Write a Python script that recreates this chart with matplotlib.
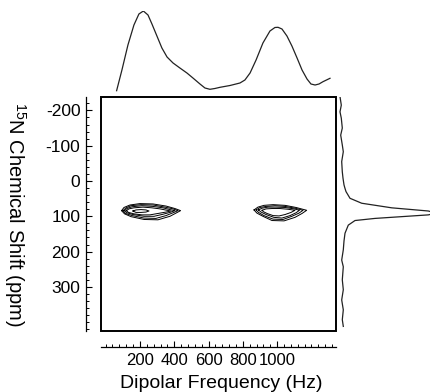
import matplotlib.pyplot as plt
from matplotlib.patches import Rectangle
from matplotlib.ticker import MultipleLocator, FixedLocator

# fonts -- Arial-like look
plt.rcParams['font.family'] = ['Liberation Sans', 'DejaVu Sans']
plt.rcParams['mathtext.fontset'] = 'custom'
plt.rcParams['mathtext.rm'] = 'Liberation Sans'
plt.rcParams['axes.unicode_minus'] = False

# top projection : dipolar dimension (Hz vs intensity, arb.)
top_hz  = [64, 95, 130, 165, 194, 220, 247, 270, 299, 328, 358, 393, 433, 474, 509, 550, 579, 608,
           637, 667, 725, 783, 812, 842, 877, 917, 958, 987, 1005, 1028, 1057, 1086, 1116, 1145,
           1174, 1197, 1221, 1244, 1267, 1308]
top_int = [1.3, 22, 47, 67, 78, 81, 77, 68, 56, 44, 35, 29, 24, 19, 14, 8, 4, 2.7,
           3.5, 4.7, 6.5, 9, 12, 19, 32, 49, 61, 64.5, 64.7, 63, 56, 46, 34, 22,
           13, 8, 7, 8, 10.3, 13.7]

# right projection : 15N dimension (ppm vs intensity, arb.)
side_ppm = [-239, -215, -196, -178, -150, -130, -102, -83, -55, -26, -8, 11, 21, 30, 49, 63, 76, 85,
            91, 96, 106, 112, 125, 148, 170, 195, 224, 243, 280, 308, 337, 365, 393, 412]
side_int = [4, 5.3, 4, 5.3, 6.3, 4.7, 6.3, 7.3, 5.7, 6.3, 7, 8, 9, 10, 14, 25.7, 55.7, 92.3,
            100, 92.3, 39, 19, 12.3, 9, 8, 7.3, 5.7, 7.3, 6.3, 7.3, 5.7, 7.3, 6.3, 7.3]

# contour outlines of the two cross peaks (Hz, ppm), outer -> inner
peak1_hz = [[93, 107, 142, 200, 276, 352, 404, 437, 410, 375, 305, 224, 148, 110, 93],
            [101, 119, 148, 206, 276, 346, 393, 422, 393, 352, 293, 224, 154, 116, 101],
            [110, 124, 154, 212, 276, 334, 375, 404, 375, 328, 282, 224, 159, 124, 110],
            [121, 136, 165, 218, 270, 317, 358, 381, 352, 305, 258, 212, 165, 133, 121],
            [159, 177, 206, 235, 253, 235, 206, 177, 159]]
peak1_ppm = [[84, 75, 68, 64, 65, 71, 78, 84, 91, 100, 110, 109, 101, 93, 84],
             [84, 76, 70, 67, 68, 74, 79, 84, 90, 98, 106, 105, 98, 92, 84],
             [84, 78, 73, 70, 72, 76, 81, 84, 89, 95, 100, 100, 95, 90, 84],
             [84, 79, 76, 74, 76, 79, 83, 85, 88, 92, 96, 96, 93, 89, 84],
             [85, 82, 81, 82, 85, 88, 89, 89, 85]]
peak2_hz = [[865, 888, 923, 976, 1046, 1110, 1172, 1145, 1104, 1040, 970, 917, 882, 865],
            [877, 900, 935, 987, 1046, 1104, 1151, 1127, 1086, 1034, 976, 923, 891, 877],
            [891, 912, 947, 993, 1046, 1098, 1130, 1110, 1075, 1028, 981, 935, 906, 891],
            [912, 935, 970, 1016, 1063, 1104, 1081, 1046, 1011, 976, 941, 920, 912]]
peak2_ppm = [[82, 74, 69, 67, 69, 75, 83, 92, 103, 113, 112, 100, 91, 82],
             [82, 75, 72, 70, 72, 77, 83, 91, 100, 109, 108, 98, 89, 82],
             [82, 77, 74, 74, 75, 79, 83, 90, 98, 105, 103, 95, 88, 82],
             [83, 79, 78, 78, 80, 83, 89, 95, 99, 98, 92, 87, 83]]

x_ticks = [200, 400, 600, 800, 1000]
y_ticks = [-200, -100, 0, 100, 200, 300]
xlim = (-27, 1343)
ylim = (425, -238)

W, H = 430., 392.
# pixel box -> figure fraction
def frac ( x0 , y0 , x1 , y1 ) :
	return [x0/W, 1 - y1/H, (x1 - x0)/W, (y1 - y0)/H]

fig = plt.figure( figsize=(W/100, H/100) , dpi=100 )

# main 2d panel
ax = fig.add_axes( frac(101, 97, 336, 331) )
for pk_x, pk_y in ((peak1_hz, peak1_ppm), (peak2_hz, peak2_ppm)):
	for cx, cy in zip(pk_x, pk_y):
		ax.plot( cx , cy , color='black' , linewidth=0.7 )
ax.set_xlim( xlim )
ax.set_ylim( ylim )
ax.add_patch( Rectangle((0, 0), 1, 1, transform=ax.transAxes, fill=False,
                        edgecolor='black', linewidth=1.4, clip_on=False) )
ax.spines['top'].set_visible(False)
ax.spines['right'].set_visible(False)
ax.spines['left'].set_position(('outward', 10.8))
ax.spines['bottom'].set_position(('outward', 11.5))
ax.spines['left'].set_linewidth(0.9)
ax.spines['bottom'].set_linewidth(0.9)
ax.xaxis.set_major_locator( FixedLocator(x_ticks) )
ax.xaxis.set_minor_locator( MultipleLocator(40) )
ax.yaxis.set_major_locator( FixedLocator(y_ticks) )
ax.yaxis.set_minor_locator( MultipleLocator(20) )
ax.tick_params( which='major' , direction='in' , length=4 , width=0.8 , labelsize=12.5 , pad=4 )
ax.tick_params( axis='x' , which='major' , labelsize=12 )
ax.tick_params( which='minor' , direction='in' , length=2.2 , width=0.7 )

# top projection
ax_t = fig.add_axes( frac(101, 11, 336, 92) )
ax_t.plot( top_hz , top_int , color='#222222' , linewidth=0.9 )
ax_t.set_xlim( xlim )
ax_t.set_ylim( 0 , 81 )
ax_t.axis('off')

# right projection
ax_r = fig.add_axes( frac(336, 97, 430, 331) )
ax_r.plot( side_int , side_ppm , color='#222222' , linewidth=0.9 )
ax_r.set_xlim( 0 , 94 )
ax_r.set_ylim( ylim )
ax_r.axis('off')

fig.text( 221/W , 1 - 383/H , 'Dipolar Frequency (Hz)' , ha='center' , va='center' , fontsize=14 )
fig.text( 15/W , 1 - 215/H , r'$\mathregular{^{15}}$N Chemical Shift (ppm)' , ha='center' , va='center' ,
          rotation=270 , fontsize=14.5 )

fig.savefig( 'out.png' , dpi=100 )
